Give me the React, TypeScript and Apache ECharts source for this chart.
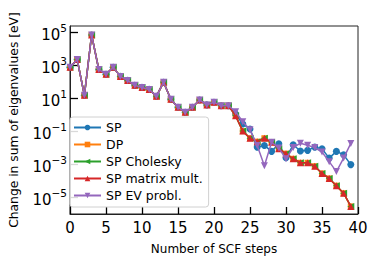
import React, { useEffect, useRef } from "react";
import * as echarts from "echarts";

// Steps 0..22: all five runs coincide
const commonHead = [
  7.4e2, 2.2e3, 1.5e1, 6.9e4, 5.5e2, 2.8e2, 7.4e2, 2.1e2, 1.2e2, 6.0e1, 4.5e1, 3.4e1,
  1.3e1, 9.3e1, 8.5, 2.8, 1.4, 2.8, 7.8, 3.9, 5.6, 3.5, 3.5,
];
// Steps 23..39
const spTail = [
  1.1, 0.27, 0.135, 0.0107, 0.0135, 0.0059, 0.017, 0.0024, 0.0148, 0.0062, 0.0068,
  0.0107, 0.0085, 0.0023, 0.0059, 0.0037, 9.3e-4,
];
const dpTail = [
  0.85, 0.1, 0.037, 0.023, 0.037, 0.021, 0.0085, 0.0043, 0.0021, 0.0012, 0.0012,
  7.4e-4, 2.7e-4, 1.35e-4, 4.9e-5, 1.7e-5, 2.7e-6,
];
const choleskyTail = [
  0.85, 0.1, 0.037, 0.023, 0.037, 0.021, 0.0085, 0.0043, 0.0021, 0.0012, 0.0012,
  7.4e-4, 2.7e-4, 1.35e-4, 4.9e-5, 1.7e-5, 2.7e-6,
];
const matmulTail = [
  0.85, 0.1, 0.037, 0.023, 0.037, 0.021, 0.0085, 0.0043, 0.0021, 0.0012, 0.0012,
  7.4e-4, 2.7e-4, 1.35e-4, 4.9e-5, 1.7e-5, 2.7e-6,
];
const evTail = [
  1.5, 0.37, 0.12, 0.0135, 7.9e-4, 0.021, 0.0093, 0.0021, 0.01, 0.0186, 0.014,
  0.01, 0.0054, 0.0014, 3.5e-4, 0.0023, 0.018,
];

const seriesNames = ["SP", "DP", "SP Cholesky", "SP matrix mult.", "SP EV probl."];
const seriesColors = ["#1f77b4", "#ff7f0e", "#2ca02c", "#d62728", "#9467bd"];
const seriesSymbols = ["circle", "rect", "triangle", "triangle", "triangle"];
const seriesRotations = [0, 0, 90, 0, 180];
const seriesTails = [spTail, dpTail, choleskyTail, matmulTail, evTail];

const yTickExponents = [-5, -3, -1, 1, 3, 5];
const xMin = 0;
const xMax = 40;
const xStep = 5;

const FONT = "DejaVu Sans";

export default function App() {
  const ref = useRef<HTMLDivElement>(null);
  useEffect(() => {
    if (!ref.current) return;
    const chart = echarts.init(ref.current, null, { renderer: "svg" });
    const series = seriesNames.map((name, k) => {
      const vals = commonHead.concat(seriesTails[k]);
      return {
        name,
        type: "line",
        data: vals.map((v, i) => [i, Math.log10(v)]),
        symbol: seriesSymbols[k],
        symbolRotate: seriesRotations[k],
        symbolSize: seriesSymbols[k] === "rect" ? 6 : 7,
        showSymbol: true,
        lineStyle: { width: 1.5, color: seriesColors[k] },
        itemStyle: { color: seriesColors[k] },
        color: seriesColors[k],
        z: 2 + k,
      };
    });
    const supFmt = (v: number) => {
      const e = Math.round(v);
      const s = e < 0 ? "\u2212" + Math.abs(e) : String(e);
      return "{b|10}{s|" + s + "}";
    };
    chart.setOption({
      animation: false,
      backgroundColor: "#ffffff",
      textStyle: { fontFamily: FONT },
      grid: {
        left: 63,
        right: 16,
        top: 26,
        bottom: 44,
        show: true,
        borderColor: "#222",
        borderWidth: 1,
        containLabel: false,
      },
      legend: {
        left: 70,
        top: 117,
        orient: "vertical",
        itemWidth: 27,
        itemHeight: 7,
        itemGap: 4,
        padding: [4, 6, 5, 3],
        backgroundColor: "rgba(255,255,255,0.85)",
        borderColor: "#d0d0d0",
        borderWidth: 1,
        borderRadius: 3,
        textStyle: { fontFamily: FONT, fontSize: 12.5, color: "#000" },
        data: seriesNames,
      },
      xAxis: {
        type: "value",
        min: xMin,
        max: xMax,
        interval: xStep,
        name: "Number of SCF steps",
        nameLocation: "middle",
        nameGap: 29,
        nameTextStyle: { fontFamily: FONT, fontSize: 12, color: "#000" },
        axisLine: { show: true, onZero: false, lineStyle: { color: "#222", width: 1 } },
        axisTick: { show: true, inside: true, length: 7, lineStyle: { color: "#000", width: 1.3 } },
        axisLabel: { fontFamily: FONT, fontSize: 15, color: "#000", margin: 6 },
        splitLine: { show: false },
      },
      yAxis: {
        type: "value",
        min: -6.03,
        max: 5.38,
        name: "Change in sum of eigenvalues [eV]",
        nameLocation: "middle",
        nameGap: 50,
        nameTextStyle: { fontFamily: FONT, fontSize: 12.3, color: "#000" },
        axisLine: { show: true, onZero: false, lineStyle: { color: "#222", width: 1 } },
        axisTick: {
          show: true,
          inside: true,
          length: 8,
          customValues: yTickExponents,
          lineStyle: { color: "#000", width: 1.3 },
        },
        axisLabel: {
          customValues: yTickExponents,
          margin: 3,
          formatter: supFmt,
          rich: {
            b: { fontFamily: FONT, fontSize: 15, color: "#000", lineHeight: 20, verticalAlign: "bottom" },
            s: { fontFamily: FONT, fontSize: 10.5, color: "#000", lineHeight: 12, verticalAlign: "top" },
          },
        },
        splitLine: { show: false },
      },
      series,
    });
    return () => chart.dispose();
  }, []);
  return (
    <div
      ref={ref}
      style={{ position: "fixed", left: 0, top: 0, width: 374, height: 260, background: "#fff" }}
    />
  );
}
